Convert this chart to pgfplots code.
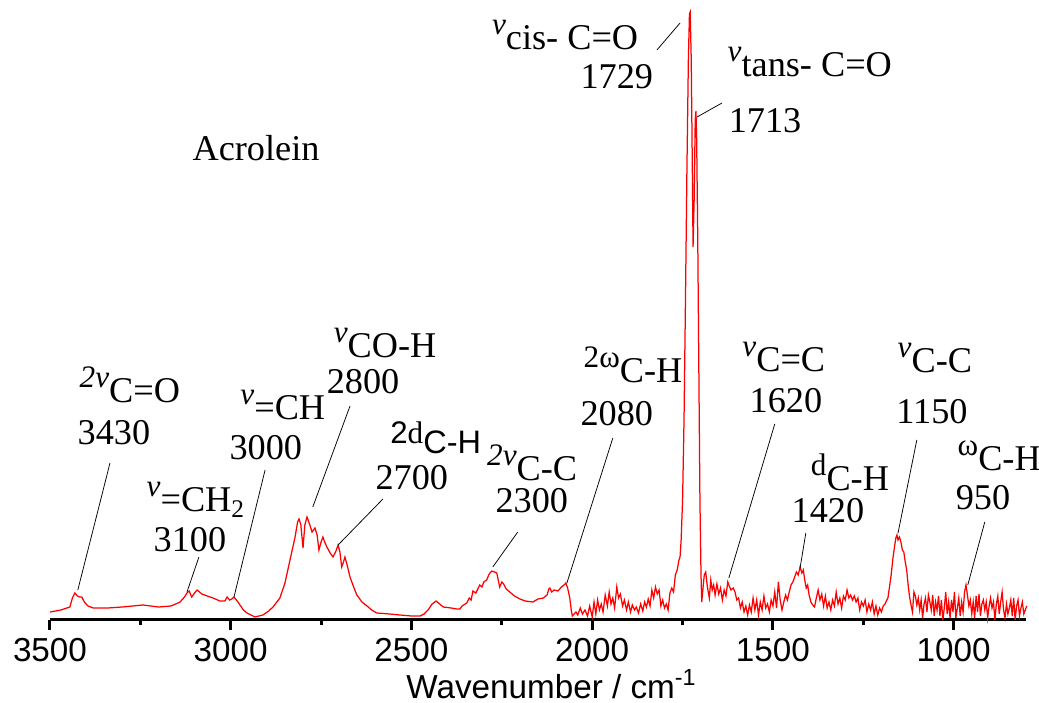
\documentclass[border=0pt]{standalone}
\usepackage{fontspec}
\setmainfont{Liberation Serif}
\setsansfont{Liberation Sans}
\usepackage{pgfplots}
\pgfplotsset{compat=1.18}

% raised symbol + full-size group label
\newcommand{\vib}[2]{\raisebox{6pt}{\fontsize{12.5}{13}\selectfont #1}#2}
\newcommand{\vv}{\textit{v}}

\begin{document}
\begin{tikzpicture}
\begin{axis}[
  scale only axis, width=390.4pt, height=244pt,
  x dir=reverse, xmin=800, xmax=3500, ymin=0, ymax=610,
  axis x line*=bottom, hide y axis,
  axis line style={line width=1.2pt},
  xtick={1000,1500,2000,2500,3000,3500},
  minor x tick num=1,
  xtick align=outside,
  major tick length=4pt, minor tick length=2pt,
  every tick/.style={line width=1.2pt, black},
  /pgf/number format/assume math mode=true,
  /pgf/number format/1000 sep={},
  xticklabel style={font=\sffamily\fontsize{13.3}{14}\selectfont, anchor=base, yshift=-12.6pt},
  xlabel={Wavenumber / cm\textsuperscript{-1}},
  xlabel style={font=\sffamily\fontsize{13.3}{14}\selectfont, at={(axis description cs:0.514,0)}, anchor=base, yshift=-31.5pt},
  clip=false,
]
\addplot[red, line width=0.5pt] coordinates {
(3500,8) (3470,10) (3445,13) (3438,22) (3431,27) (3424,24) (3418,23) (3412,23) (3405,18) (3395,14)
(3380,12) (3340,12) (3300,13) (3243,15) (3200,13) (3165,14) (3140,18) (3128,23) (3121,27) (3115,29)
(3108,23) (3100,27) (3093,30) (3080,26) (3065,24) (3049,22) (3030,19) (3016,19) (3010,23) (3003,20)
(2997,21) (2991,23) (2980,18) (2965,10) (2955,7) (2933,3) (2911,5) (2895,9) (2883,13) (2864,22)
(2850,37) (2836,60) (2822,83) (2815,98) (2811,101) (2806,95) (2800,72) (2795,95) (2789,103) (2782,96)
(2775,88) (2767,92) (2761,85) (2756,70) (2750,78) (2745,83) (2740,78) (2734,73) (2725,67) (2717,63)
(2710,68) (2703,75) (2698,68) (2693,53) (2688,58) (2684,63) (2678,55) (2670,43) (2660,33) (2651,25)
(2637,18) (2623,14) (2610,10) (2596,7) (2560,6) (2532,5) (2500,4) (2476,4) (2465,6) (2454,10)
(2443,16) (2432,19) (2422,16) (2412,13) (2390,12) (2375,11) (2366,11) (2360,14) (2347,17) (2340,22)
(2335,20) (2330,29) (2322,27) (2311,35) (2305,33) (2300,38) (2292,40) (2285,46) (2278,49) (2270,48)
(2264,47) (2260,40) (2256,33) (2250,38) (2245,36) (2238,31) (2228,28) (2215,24) (2205,22) (2200,21)
(2185,19) (2164,18) (2150,21) (2135,22) (2125,25) (2120,31) (2117,32) (2112,28) (2105,30) (2095,29)
(2085,33) (2078,35) (2073,37) (2068,32) (2062,22) (2058,10) (2055,4) (2050,6)
(2045,8) (2040,5) (2033,12) (2027,6) (2020,10) (2013,4) (2007,14) (2000,3) (1995,18) (1990,6)
(1985,20) (1980,10) (1975,16) (1970,8) (1964,25) (1958,14) (1953,28) (1948,16) (1943,22) (1938,12)
(1932,33) (1927,22) (1922,26) (1916,14) (1911,20) (1905,10) (1900,18) (1894,8) (1889,15) (1883,10)
(1878,13) (1872,7) (1866,16) (1860,9) (1855,18) (1850,13) (1845,21) (1840,14) (1835,30) (1830,22)
(1825,33) (1820,26) (1815,30) (1810,14) (1805,20) (1800,12) (1795,16) (1790,10) (1785,27) (1780,32)
(1775,28) (1770,45) (1765,50) (1760,60) (1757,63) (1754,80) (1750,120) (1746,200) (1742,320) (1738,450)
(1734,560) (1731,606) (1729,608) (1726,560) (1723,450) (1721,373) (1718,420) (1715,500) (1713,509) (1711,480)
(1708,380) (1705,250) (1702,120) (1699,45) (1697,18) (1694,30) (1690,45) (1686,48) (1683,38) (1680,30)
(1676,22) (1672,40) (1668,30) (1664,35) (1660,25) (1655,36) (1650,26) (1645,32) (1640,20) (1635,30)
(1630,24) (1625,38) (1621,34) (1616,30) (1610,32) (1605,28) (1600,20) (1595,22) (1590,12) (1585,18)
(1580,8) (1575,14) (1570,5) (1565,15) (1560,8) (1555,22) (1550,10) (1545,20) (1540,5) (1535,18)
(1530,10) (1525,24) (1520,12) (1515,16) (1510,8) (1505,20) (1500,14) (1495,28) (1490,12) (1485,38)
(1480,20) (1475,10) (1470,18) (1465,25) (1460,20) (1455,28) (1450,35) (1445,38) (1440,43) (1435,48)
(1430,45) (1425,53) (1420,47) (1416,50) (1412,40) (1408,32) (1404,35) (1400,25) (1395,18) (1390,15)
(1385,13) (1380,22) (1375,30) (1370,20) (1365,26) (1360,14) (1355,24) (1350,12) (1345,18) (1340,10)
(1335,20) (1330,14) (1325,28) (1320,16) (1315,22) (1310,12) (1305,24) (1300,20) (1295,30) (1290,22)
(1285,25) (1280,20) (1275,24) (1270,18) (1265,22) (1260,10) (1255,18) (1250,14) (1245,20) (1240,8)
(1235,16) (1230,10) (1225,18) (1220,6) (1215,14) (1210,5) (1205,12) (1200,8) (1195,14) (1190,16)
(1185,20) (1182,22) (1178,32) (1173,45) (1168,62) (1163,75) (1160,82) (1157,85) (1154,80) (1150,83)
(1146,78) (1142,70) (1138,68) (1134,58) (1130,50) (1126,35) (1122,23) (1118,15) (1114,8) (1110,28)
(1106,24) (1102,15) (1098,22) (1094,10) (1090,20) (1086,2) (1082,16) (1078,22) (1074,8) (1070,25)
(1066,18) (1062,10) (1058,25) (1054,4) (1050,18) (1046,10) (1042,24) (1038,4) (1034,20) (1030,0)
(1026,12) (1022,28) (1018,6) (1014,18) (1010,2) (1006,20) (1002,8) (998,28) (994,2) (990,12)
(986,22) (982,4) (978,18) (974,8) (970,28) (966,35) (962,25) (958,14) (954,20) (950,6)
(946,18) (942,2) (938,24) (934,8) (930,26) (926,4) (922,16) (918,20) (914,10) (910,18)
(906,2) (902,14) (898,22) (894,12) (890,18) (886,0) (882,16) (878,24) (874,6) (870,18)
(866,28) (862,10) (858,2) (854,16) (850,6) (846,12) (842,20) (838,4) (834,22) (830,0)
(826,14) (822,20) (818,4) (814,12) (810,18) (806,6) (802,10) (798,14)
};

% annotations
\begin{scope}[every node/.style={inner sep=0pt, font=\fontsize{14.5}{15}\selectfont}]
\node at (axis cs:2930,472) {Acrolein};

\node at (axis cs:3279,235) {\vib{\textit{2v}}{C=O}};
\node at (axis cs:3323,187) {3430};
\draw[line width=0.3pt] (axis cs:3334,157) -- (axis cs:3423,30);

\node at (axis cs:3096,120) {\vib{\vv}{=CH\textsubscript{2}}};
\node at (axis cs:3113,80) {3100};
\draw[line width=0.3pt] (axis cs:3088,63) -- (axis cs:3121,28);

\node at (axis cs:2856,215) {\vib{\vv}{=CH}};
\node at (axis cs:2903,172) {3000};
\draw[line width=0.3pt] (axis cs:2905,150) -- (axis cs:2991,23);

\node at (axis cs:2573,277) {\vib{\vv}{CO-H}};
\node at (axis cs:2634,238) {2800};
\draw[line width=0.3pt] (axis cs:2670,214) -- (axis cs:2773,113);

\node at (axis cs:2433,182) {\raisebox{4pt}{\sffamily\fontsize{12.5}{13}\selectfont 2\rmfamily d}\sffamily\fontsize{13}{13}\selectfont C-H};
\node at (axis cs:2499,142) {2700};
\draw[line width=0.3pt] (axis cs:2579,121) -- (axis cs:2703,75);

\node at (axis cs:2166,157) {\vib{\textit{2v}}{C-C}};
\node at (axis cs:2167,119) {2300};
\draw[line width=0.3pt] (axis cs:2206,88) -- (axis cs:2275,53);

\node at (axis cs:1887,255) {\vib{2ω}{C-H}};
\node at (axis cs:1932,206) {2080};
\draw[line width=0.3pt] (axis cs:1943,182) -- (axis cs:2070,37);

\node at (axis cs:2075,585) {\vib{\vv}{cis- C=O}};
\node at (axis cs:1932,543) {1729};
\draw[line width=0.3pt] (axis cs:1821,570) -- (axis cs:1757,597);

\node at (axis cs:1398,558) {\vib{\vv}{tans- C=O}};
\node at (axis cs:1522,499) {1713};
\draw[line width=0.3pt] (axis cs:1641,517) -- (axis cs:1710,503);

\node at (axis cs:1470,263) {\vib{\vv}{C=C}};
\node at (axis cs:1464,219) {1620};
\draw[line width=0.3pt] (axis cs:1495,196) -- (axis cs:1622,42);

\node at (axis cs:1287,148) {\vib{d}{C-H}};
\node at (axis cs:1348,109) {1420};
\draw[line width=0.3pt] (axis cs:1409,87) -- (axis cs:1425,52);

\node at (axis cs:1052,262) {\vib{\vv}{C-C}};
\node at (axis cs:1060,208) {1150};
\draw[line width=0.3pt] (axis cs:1102,180) -- (axis cs:1154,87);

\node at (axis cs:874,164) {\vib{ω}{C-H}};
\node at (axis cs:919,122) {950};
\draw[line width=0.3pt] (axis cs:914,98) -- (axis cs:961,35);
\end{scope}
\end{axis}
\pgfresetboundingbox
\path[use as bounding box] (-20pt,-33.2pt) rectangle (395.6pt,248pt);
\end{tikzpicture}
\end{document}
